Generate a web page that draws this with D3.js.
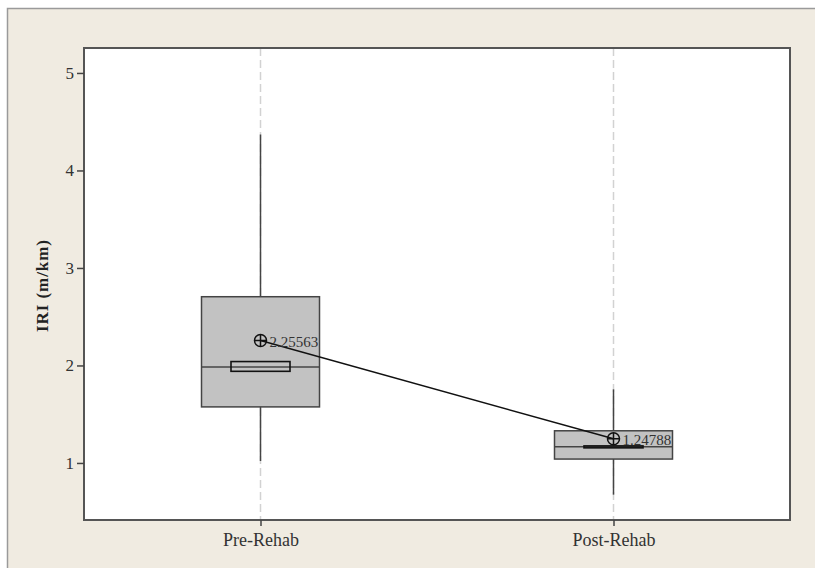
<!DOCTYPE html>
<html>
<head>
<meta charset="utf-8">
<script src="https://cdn.jsdelivr.net/npm/d3@7"></script>
<style>
  body { margin: 0; background: #fff; }
  svg { display: block; }
  .tick text { font-family: "Liberation Serif", "Times New Roman", serif; fill: #333; }
</style>
</head>
<body>
<script>
// box plot values
var categories = ["Pre-Rehab", "Post-Rehab"];
var whiskerLow = [1.02, 0.675];
var q1 = [1.575, 1.04];
var median = [1.985, 1.165];
var q3 = [2.705, 1.33];
var whiskerHigh = [4.37, 1.755];
var ciLow = [1.94, 1.155];
var ciHigh = [2.04, 1.175];
var means = [2.25563, 1.24788];
var yTicks = [1, 2, 3, 4, 5];

var W = 815, H = 568;
var plotL = 84, plotR = 790, plotT = 48, plotB = 520;

var svg = d3.select('body').append('svg').attr('width', W).attr('height', H);

// outer panel
svg.append('rect')
  .attr('x', 7.5).attr('y', 8.5).attr('width', W + 10).attr('height', H + 10)
  .style('fill', '#f0ebe1').style('stroke', '#9a9a9a').style('stroke-width', 1.5);

// plot area
svg.append('rect')
  .attr('x', plotL).attr('y', plotT).attr('width', plotR - plotL).attr('height', plotB - plotT)
  .style('fill', '#fff');

var x = d3.scalePoint().domain(categories).range([plotL, plotR]).padding(0.5);
var y = d3.scaleLinear().domain([0.415, 5.256]).range([plotB, plotT]);

var boxHalf = 59, ciHalf = 29.5;

// dashed reference lines
svg.selectAll('line.ref').data(categories).enter().append('line')
  .attr('class', 'ref')
  .attr('x1', function(d){ return x(d); }).attr('x2', function(d){ return x(d); })
  .attr('y1', plotT).attr('y2', plotB)
  .style('stroke', '#d2d2d2').style('stroke-width', 1.5).style('stroke-dasharray', '8,4');

// whiskers
svg.selectAll('line.whisker').data(categories).enter().append('line')
  .attr('class', 'whisker')
  .attr('x1', function(d){ return x(d); }).attr('x2', function(d){ return x(d); })
  .attr('y1', function(d, i){ return y(whiskerLow[i]); })
  .attr('y2', function(d, i){ return y(whiskerHigh[i]); })
  .style('stroke', '#444').style('stroke-width', 1.5);

// boxes
svg.selectAll('rect.box').data(categories).enter().append('rect')
  .attr('class', 'box')
  .attr('x', function(d){ return x(d) - boxHalf; })
  .attr('width', boxHalf * 2)
  .attr('y', function(d, i){ return y(q3[i]); })
  .attr('height', function(d, i){ return y(q1[i]) - y(q3[i]); })
  .style('fill', '#c2c2c2').style('stroke', '#444').style('stroke-width', 1.5);

// medians
svg.selectAll('line.median').data(categories).enter().append('line')
  .attr('class', 'median')
  .attr('x1', function(d){ return x(d) - boxHalf; }).attr('x2', function(d){ return x(d) + boxHalf; })
  .attr('y1', function(d, i){ return y(median[i]); })
  .attr('y2', function(d, i){ return y(median[i]); })
  .style('stroke', '#444').style('stroke-width', 1.5);

// median confidence boxes
svg.selectAll('rect.ci').data(categories).enter().append('rect')
  .attr('class', 'ci')
  .attr('x', function(d){ return x(d) - ciHalf; })
  .attr('width', ciHalf * 2)
  .attr('y', function(d, i){ return y(ciHigh[i]); })
  .attr('height', function(d, i){ return y(ciLow[i]) - y(ciHigh[i]); })
  .style('fill', 'none').style('stroke', '#111').style('stroke-width', 1.6);

// mean connect line
var line = d3.line()
  .x(function(d, i){ return x(categories[i]); })
  .y(function(d){ return y(d); });
svg.append('path').datum(means).attr('d', line)
  .style('fill', 'none').style('stroke', '#111').style('stroke-width', 1.5);

// mean symbols
var sym = svg.selectAll('g.mean').data(means).enter().append('g')
  .attr('class', 'mean')
  .attr('transform', function(d, i){ return 'translate(' + x(categories[i]) + ',' + y(d) + ')'; });
sym.append('circle').attr('r', 6)
  .style('fill', 'none').style('stroke', '#111').style('stroke-width', 1.5);
sym.append('path').attr('d', 'M-6,0H6M0,-6V6')
  .style('stroke', '#111').style('stroke-width', 1.5);
sym.append('text')
  .attr('x', 9).attr('y', 6)
  .text(function(d){ return d; })
  .style('font-family', '"Liberation Serif", serif').style('font-size', '15px').style('fill', '#333');

// plot frame
svg.append('rect')
  .attr('x', plotL).attr('y', plotT).attr('width', plotR - plotL).attr('height', plotB - plotT)
  .style('fill', 'none').style('stroke', '#555').style('stroke-width', 2);

// axes
var yAxis = svg.append('g').attr('transform', 'translate(' + plotL + ',0)')
  .call(d3.axisLeft(y).tickValues(yTicks).tickFormat(d3.format('d')).tickSize(7).tickPadding(3));
yAxis.select('.domain').remove();
yAxis.selectAll('.tick line').style('stroke', '#444').style('stroke-width', 1.5);
yAxis.selectAll('.tick text').style('font-size', '17px');

var xAxis = svg.append('g').attr('transform', 'translate(0,' + plotB + ')')
  .call(d3.axisBottom(x).tickSize(6).tickPadding(7));
xAxis.select('.domain').remove();
xAxis.selectAll('.tick line').style('stroke', '#444').style('stroke-width', 1.5);
xAxis.selectAll('.tick text').style('font-size', '18px');

// y label
svg.append('text')
  .attr('transform', 'translate(48,' + ((plotT + plotB) / 2 + 2) + ')rotate(-90)')
  .attr('text-anchor', 'middle')
  .attr('textLength', 92).attr('lengthAdjust', 'spacing')
  .text('IRI (m/km)')
  .style('font-family', '"Liberation Serif", serif').style('font-weight', 'bold')
  .style('font-size', '17px').style('fill', '#222');
</script>
</body>
</html>
